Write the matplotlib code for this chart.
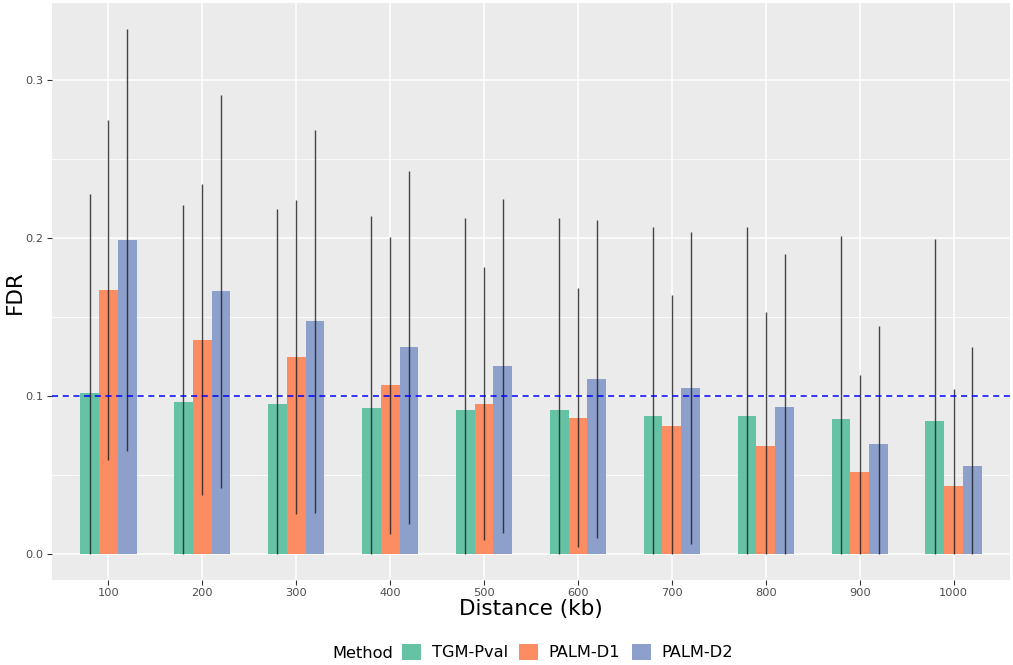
import numpy as np
import matplotlib
matplotlib.use("Agg")
import matplotlib.pyplot as plt
from matplotlib.patches import Patch

# FDR by genomic distance for each method: mean and standard deviation
distances = ["100", "200", "300", "400", "500", "600", "700", "800", "900", "1000"]
methods = ["TGM-Pval", "PALM-D1", "PALM-D2"]
colors = ["#66C2A5", "#FC8D62", "#8DA0CB"]

tgm_mean = [0.1014, 0.0958, 0.0949, 0.0922, 0.0909, 0.0909, 0.0870, 0.0870, 0.0852, 0.0841]
tgm_sd = [0.1262, 0.1246, 0.1233, 0.1213, 0.1217, 0.1217, 0.1199, 0.1199, 0.1159, 0.1152]
d1_mean = [0.1668, 0.1354, 0.1243, 0.1066, 0.0948, 0.0861, 0.0810, 0.0684, 0.0515, 0.0427]
d1_sd = [0.1078, 0.0985, 0.0993, 0.0938, 0.0863, 0.0817, 0.0830, 0.0843, 0.0614, 0.0614]
d2_mean = [0.1985, 0.1660, 0.1470, 0.1305, 0.1188, 0.1107, 0.1048, 0.0929, 0.0697, 0.0556]
d2_sd = [0.1333, 0.1244, 0.1213, 0.1118, 0.1057, 0.1005, 0.0985, 0.0967, 0.0745, 0.0751]

target_fdr = 0.1

means = [tgm_mean, d1_mean, d2_mean]
sds = [tgm_sd, d1_sd, d2_sd]

W, H, DPI = 1013, 665, 100
fig = plt.figure(figsize=(W / DPI, H / DPI), dpi=DPI)
fig.patch.set_facecolor("white")
ax = fig.add_axes([52 / W, 1 - 580 / H, (1010 - 52) / W, (580 - 3) / H])
ax.set_facecolor("#EBEBEB")
for s in ax.spines.values():
    s.set_visible(False)

x = np.arange(1, len(distances) + 1)
width = 0.2
offsets = [-0.2, 0.0, 0.2]

# axis ranges padded by 5% of the data span (error bars floored at zero)
ymax_data = 0.0
for m, s in zip(means, sds):
    ymax_data = max(ymax_data, max(np.array(m) + np.array(s)))
pad = 0.05 * ymax_data
ax.set_ylim(-pad, ymax_data + pad)
ax.set_xlim(0.4, len(distances) + 0.6)

# grid (ggplot2 grey theme)
major_y = [0.0, 0.1, 0.2, 0.3]
minor_y = [0.05, 0.15, 0.25]
for yv in major_y:
    ax.axhline(yv, color="white", lw=1.1, zorder=0.5)
for yv in minor_y:
    ax.axhline(yv, color="white", lw=0.55, zorder=0.5)
for xv in x:
    ax.axvline(xv, color="white", lw=1.1, zorder=0.5)

for i in range(3):
    pos = x + offsets[i]
    ax.bar(pos, means[i], width=width, color=colors[i], zorder=2)
    lo = np.maximum(0, np.array(means[i]) - np.array(sds[i]))
    hi = np.array(means[i]) + np.array(sds[i])
    ax.vlines(pos, lo, hi, color="#1a1a1a", alpha=0.8, lw=1.0, zorder=3)

ax.axhline(target_fdr, color="blue", lw=1.1, linestyle=(0, (4, 3)), zorder=4)

ax.set_yticks(major_y)
ax.set_yticklabels(["0.0", "0.1", "0.2", "0.3"])
ax.set_xticks(x)
ax.set_xticklabels(distances)
ax.tick_params(axis="both", colors="#333333", labelcolor="#4D4D4D",
               labelsize=8.2, length=3.5, width=0.8, pad=2.5)

# axis titles
fig.text(531 / W, 1 - 609 / H, "Distance (kb)", fontsize=15.5, ha="center", va="center")
fig.text(15 / W, 1 - 292 / H, "FDR", fontsize=15.5, ha="center", va="center", rotation=90)

# legend along the bottom with the title to the left
fig.text(332 / W, 1 - 653 / H, "Method", fontsize=11.7, va="center", ha="left")
handles = [Patch(facecolor=c, edgecolor="none") for c in colors]
fig.legend(handles, methods, loc="center left", bbox_to_anchor=(402 / W, 1 - 652 / H),
           ncol=3, frameon=False, fontsize=11.7, handlelength=1.17, handleheight=1.17,
           handletextpad=0.65, columnspacing=0.7, borderpad=0, borderaxespad=0)

fig.savefig("out.png", dpi=DPI)
